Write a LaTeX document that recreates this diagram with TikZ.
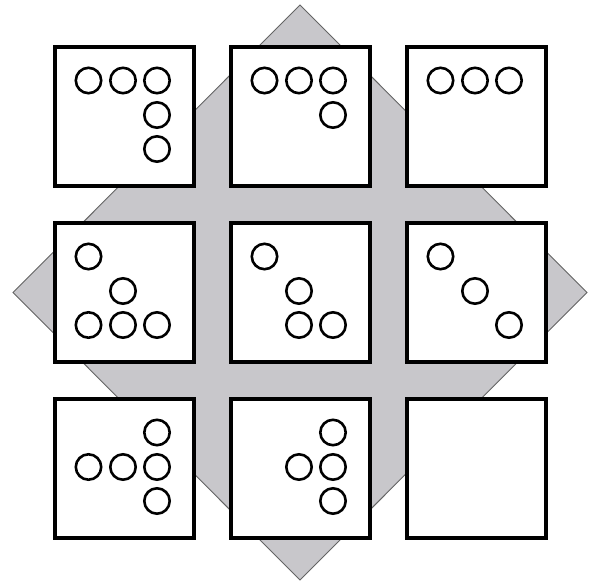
\documentclass[tikz,border=0pt]{standalone}
\begin{document}
\begin{tikzpicture}[x=1pt,y=-1pt,
  diamondbg/.style={fill={rgb,255:red,200;green,199;blue,203}, draw={rgb,255:red,100;green,100;blue,100}, line width=0.9pt},
  cellbox/.style={draw=black, fill=white, line width=3.4pt, minimum width=139pt, minimum height=139pt, inner sep=0pt, outer sep=0pt},
  dot/.style={draw=black, line width=2.6pt, circle, minimum size=25.4pt, inner sep=0pt}]
\useasboundingbox (0,0) rectangle (589,581);
\fill[white] (0,0) rectangle (589,581);
\draw[diamondbg] (300,5) -- (587,292.5) -- (300,580) -- (13,292.5) -- cycle;
% cells
\def\cxA{124.5}\def\cxB{300.5}\def\cxC{476.5}
\def\cyA{116.5}\def\cyB{292.5}\def\cyC{468.5}
\node[cellbox] (c11) at (\cxA,\cyA) {};
\node[cellbox] (c12) at (\cxB,\cyA) {};
\node[cellbox] (c13) at (\cxC,\cyA) {};
\node[cellbox] (c21) at (\cxA,\cyB) {};
\node[cellbox] (c22) at (\cxB,\cyB) {};
\node[cellbox] (c23) at (\cxC,\cyB) {};
\node[cellbox] (c31) at (\cxA,\cyC) {};
\node[cellbox] (c32) at (\cxB,\cyC) {};
\node[cellbox] (c33) at (\cxC,\cyC) {};
% dot positions relative to cell center: offsets -36, -1.5, 32.5
\newcommand{\dotat}[4]{%
  \pgfmathsetmacro{\dx}{ifthenelse(#3==1,-36,ifthenelse(#3==2,-1.5,32.5))}%
  \pgfmathsetmacro{\dy}{ifthenelse(#4==1,-36,ifthenelse(#4==2,-1.5,32.5))}%
  \node[dot] (#1d#3#4) at ([shift={(\dx,\dy)}]#2.center) {};}
% row 1
\dotat{a}{c11}{1}{1}\dotat{a}{c11}{2}{1}\dotat{a}{c11}{3}{1}\dotat{a}{c11}{3}{2}\dotat{a}{c11}{3}{3}
\dotat{b}{c12}{1}{1}\dotat{b}{c12}{2}{1}\dotat{b}{c12}{3}{1}\dotat{b}{c12}{3}{2}
\dotat{c}{c13}{1}{1}\dotat{c}{c13}{2}{1}\dotat{c}{c13}{3}{1}
% row 2
\dotat{d}{c21}{1}{1}\dotat{d}{c21}{2}{2}\dotat{d}{c21}{1}{3}\dotat{d}{c21}{2}{3}\dotat{d}{c21}{3}{3}
\dotat{e}{c22}{1}{1}\dotat{e}{c22}{2}{2}\dotat{e}{c22}{2}{3}\dotat{e}{c22}{3}{3}
\dotat{f}{c23}{1}{1}\dotat{f}{c23}{2}{2}\dotat{f}{c23}{3}{3}
% row 3
\dotat{g}{c31}{3}{1}\dotat{g}{c31}{1}{2}\dotat{g}{c31}{2}{2}\dotat{g}{c31}{3}{2}\dotat{g}{c31}{3}{3}
\dotat{h}{c32}{3}{1}\dotat{h}{c32}{2}{2}\dotat{h}{c32}{3}{2}\dotat{h}{c32}{3}{3}
\end{tikzpicture}
\end{document}
